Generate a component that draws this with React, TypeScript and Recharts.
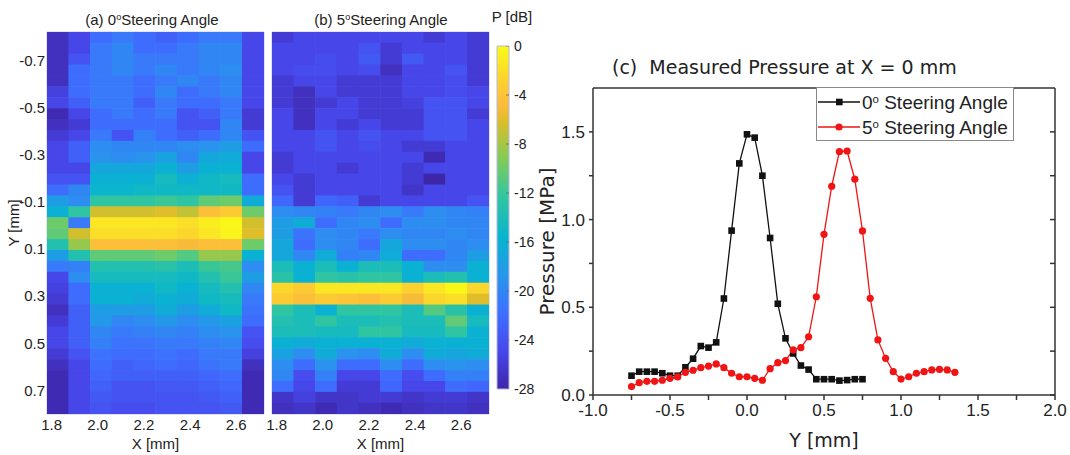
import React from 'react';
import {
  ScatterChart,
  Scatter,
  LineChart,
  Line,
  XAxis,
  YAxis,
  ReferenceArea,
} from 'recharts';

// heat map grid (panels a and b)
const heatXStart = 1.78;
const heatXStep = 0.094;
const heatYStart = -0.82;
const heatYStep = 0.04629;
const heatXTicks = [1.8, 2.0, 2.2, 2.4, 2.6];
const heatYTicks = [-0.7, -0.5, -0.3, -0.1, 0.1, 0.3, 0.5, 0.7];
const colorbarTicks = [0, -4, -8, -12, -16, -20, -24, -28];

// P [dB], one row per Y step (top to bottom), 10 X columns
const steer0Map = [
  [-27, -25, -22, -21, -22, -23, -22, -21, -21, -25],
  [-27, -25, -21, -20, -22, -22, -21, -20, -20, -25],
  [-27, -24, -21, -20, -21, -21, -21, -20, -20, -25],
  [-27, -22, -21, -20, -21, -20, -21, -20, -19.5, -25],
  [-27, -22, -21, -21, -22, -21, -20, -21, -20, -25],
  [-25.5, -22, -21, -21, -22, -20, -22, -21, -20, -25],
  [-25, -23, -21, -21, -23, -21, -22, -22, -21, -25],
  [-27.5, -25, -22, -21, -22, -21, -24, -23, -21, -26],
  [-27, -26, -22, -22, -22, -22, -24, -24, -20, -26],
  [-26, -25, -21, -24, -20.5, -22, -23, -22, -20, -24],
  [-25, -23, -19.5, -20, -20, -20, -19.5, -19, -18, -22],
  [-25, -23, -19, -19.5, -19, -17.5, -20, -17, -16.5, -25],
  [-25, -25, -17, -17, -17, -16, -18, -16, -16, -25],
  [-24, -24, -16, -16, -16, -14.5, -16, -15, -14.5, -22],
  [-22, -20, -15.5, -15.5, -15, -15, -15, -15, -15, -22],
  [-18, -19.5, -12.5, -12.5, -12.5, -12, -12.5, -10.5, -10, -16.5],
  [-16, -12.5, -6.5, -6.5, -6.5, -6, -7, -4.5, -3.5, -10],
  [-10, -21, -1.5, -1.5, -1.5, -1.5, -2, -1, -0.3, -6.5],
  [-10.5, -6.5, -2, -2, -2, -2, -2.5, -1.5, -0.5, -6],
  [-13.5, -8.5, -4.5, -4.5, -4.5, -4.5, -5, -4.5, -4.5, -10],
  [-18, -13.5, -10.5, -10.5, -10.5, -10, -11, -8.5, -8.5, -16],
  [-21, -20.5, -13.5, -13.5, -13.5, -13, -14, -12, -11.5, -19.5],
  [-25, -19.5, -14.5, -14.5, -14.5, -14.5, -15, -13.5, -12, -18],
  [-25.5, -22, -16, -16, -16, -15, -16, -14.5, -13.5, -20],
  [-26, -22, -16, -16, -16.5, -16, -16.5, -15, -14.5, -21],
  [-27, -23, -18, -18, -18, -16.5, -18, -16.5, -15, -21.5],
  [-26, -23, -18.5, -20, -19.5, -18.5, -19.5, -18.5, -17.5, -22],
  [-25, -23, -20, -21, -20.5, -20, -20.5, -19.5, -19, -24],
  [-25, -23, -20.5, -21.5, -21.5, -21, -21, -20.5, -20, -24.5],
  [-26, -24, -21.5, -22, -22, -21.5, -22, -21, -21, -25.5],
  [-27, -25, -22, -23, -22.5, -22, -22.5, -21.5, -21, -27],
  [-27.5, -25, -22.5, -23, -23, -23, -23, -22.5, -22, -27.5],
  [-27.5, -25, -23, -24, -24, -23.5, -23.5, -23, -22.5, -27.5],
  [-27.5, -25, -23.5, -24, -24, -24, -24, -23.5, -23, -27.5],
  [-27.5, -25, -24, -24.5, -24.5, -24, -24, -24, -23.5, -27.5],
];

const steer5Map = [
  [-26, -25, -25, -25, -25, -25, -25, -26, -25, -26],
  [-25, -25, -25, -25, -24, -26, -25, -25, -25, -26],
  [-25, -25, -24.5, -25, -23.5, -26, -23.5, -25, -25, -26],
  [-25, -24.5, -24.5, -25, -24.5, -27, -25, -25, -24, -26],
  [-26, -25, -25, -26, -26, -26, -25, -25, -24.5, -26],
  [-26, -27, -25, -26, -26, -26, -25, -25, -24.5, -25],
  [-26, -27, -26, -25, -26, -26, -25.5, -24, -24, -25],
  [-25, -27, -25, -25, -26, -26, -26, -24, -24, -26],
  [-25, -27, -25, -26, -25, -26, -26, -24, -24, -25],
  [-25, -25, -24, -25, -24, -25, -25, -24, -24, -25],
  [-25, -25, -24, -25, -24.5, -25, -26, -26, -25, -25],
  [-26, -25, -25, -25, -25, -25, -25, -27.5, -25, -25],
  [-26, -25, -25, -26, -25, -25, -26, -25, -25, -25],
  [-25, -26, -25, -25, -25, -25, -26, -28, -25, -25],
  [-24, -26, -25, -25, -25, -25, -26.5, -25, -25, -25],
  [-22.5, -26, -22.5, -23, -26, -25, -25, -25, -25, -24],
  [-19.5, -20, -20.5, -21, -20, -19.5, -21, -19.5, -20, -20.5],
  [-18, -16.5, -22, -20, -19.5, -22, -19.5, -19.5, -20, -20],
  [-18, -21.5, -19.5, -20, -21, -19.5, -20, -20, -19.5, -20],
  [-17, -22, -19.5, -20, -22, -17, -19.5, -19.5, -20, -19.5],
  [-17, -20, -16.5, -20.5, -20, -16.5, -22, -22, -20, -18],
  [-14, -16, -14, -16, -14, -14, -16, -19.5, -19.5, -16],
  [-13, -16, -12.5, -13, -12.5, -12.5, -16, -14, -13.5, -16],
  [-2.5, -3.5, -1.5, -1.5, -1.5, -1.5, -3, -1.5, -0.3, -2.5],
  [-3.5, -4.5, -3.5, -4, -4.5, -3.5, -5, -2.5, -2, -6],
  [-12.5, -14, -16, -12.5, -12.5, -12.5, -14, -11, -13, -16],
  [-13.5, -14, -12.5, -14, -14, -13.5, -14, -14, -10.5, -14.5],
  [-14, -14, -14.5, -14.5, -12.5, -12.5, -14.5, -14.5, -12.5, -16],
  [-16, -16.5, -16, -16, -16, -16, -16.5, -16, -16, -16],
  [-17.5, -19.5, -16.5, -19, -19.5, -16.5, -19.5, -16.5, -17, -16.5],
  [-19.5, -22, -19, -22, -22, -19.5, -22, -19.5, -19, -19.5],
  [-20, -24.5, -20.5, -25, -25, -22, -24.5, -22, -20.5, -20.5],
  [-22, -25, -22, -26, -26, -22.5, -25, -25, -22, -22.5],
  [-26.5, -25.5, -26.5, -26.5, -26, -26, -26.5, -26, -26, -26.5],
  [-27, -26.5, -27.5, -26.5, -27, -27.5, -27, -26.5, -26.5, -27],
];

// line plot (c): Y position [mm] and pressure [MPa]
const steer0Y = [
  -0.75, -0.7, -0.65, -0.6, -0.55, -0.5, -0.45, -0.4, -0.35, -0.3, -0.25, -0.2, -0.15, -0.1, -0.05,
  0, 0.05, 0.1, 0.15, 0.2, 0.25, 0.3, 0.35, 0.4, 0.45, 0.5, 0.55, 0.6, 0.65, 0.7, 0.75,
];
const steer0P = [
  0.11, 0.133, 0.133, 0.133, 0.124, 0.11, 0.11, 0.158, 0.207, 0.279, 0.27, 0.3, 0.55, 0.937, 1.32,
  1.486, 1.467, 1.25, 0.895, 0.52, 0.323, 0.237, 0.168, 0.145, 0.09, 0.09, 0.09, 0.082, 0.085, 0.09, 0.09,
];
const steer5Y = [
  -0.75, -0.7, -0.65, -0.6, -0.55, -0.5, -0.45, -0.4, -0.35, -0.3, -0.25, -0.2, -0.15, -0.1, -0.05,
  0, 0.05, 0.1, 0.15, 0.2, 0.25, 0.3, 0.35, 0.4, 0.45, 0.5, 0.55, 0.6, 0.65, 0.7, 0.75,
  0.8, 0.85, 0.9, 0.95, 1.0, 1.05, 1.1, 1.15, 1.2, 1.25, 1.3, 1.35,
];
const steer5P = [
  0.048, 0.07, 0.078, 0.078, 0.084, 0.095, 0.103, 0.129, 0.141, 0.156, 0.165, 0.177, 0.156, 0.124, 0.104,
  0.104, 0.095, 0.084, 0.15, 0.184, 0.196, 0.257, 0.27, 0.332, 0.56, 0.916, 1.19, 1.387, 1.391, 1.23, 0.935,
  0.551, 0.314, 0.209, 0.133, 0.091, 0.104, 0.124, 0.133, 0.143, 0.146, 0.143, 0.129,
];
const lineXTicks = [-1, -0.75, -0.5, -0.25, 0, 0.25, 0.5, 0.75, 1, 1.25, 1.5, 1.75, 2];
const lineYTicks = [0, 0.25, 0.5, 0.75, 1, 1.25, 1.5];

const series = [
  { name: '0', color: '#111111', marker: 'square' },
  { name: '5', color: '#f01414', marker: 'circle' },
];

// approximate MATLAB parula
const parulaStops: [number, string][] = [
  [0, '#3e26a8'],
  [0.11, '#4747eb'],
  [0.22, '#3e6fff'],
  [0.33, '#2796eb'],
  [0.44, '#08b4d0'],
  [0.56, '#31c69f'],
  [0.67, '#81cc59'],
  [0.78, '#dcbd29'],
  [0.83, '#fbbc3c'],
  [0.89, '#fccf30'],
  [1, '#f9fb15'],
];

const hexRgb = (h: string) => [1, 3, 5].map((i) => parseInt(h.slice(i, i + 2), 16));

function parula(t: number): string {
  const v = Math.max(0, Math.min(1, t));
  for (let i = 1; i < parulaStops.length; i++) {
    const [t1, c1] = parulaStops[i];
    if (v <= t1) {
      const [t0, c0] = parulaStops[i - 1];
      const f = (v - t0) / (t1 - t0);
      const a = hexRgb(c0);
      const b = hexRgb(c1);
      return `rgb(${a.map((x, k) => Math.round(x + (b[k] - x) * f)).join(',')})`;
    }
  }
  return parulaStops[parulaStops.length - 1][1];
}

const dbColor = (db: number) => parula((db + 28) / 28);

const SANS = "'Liberation Sans', Arial, sans-serif";
const WIDE = "'DejaVu Sans', Verdana, sans-serif";
const TEXT = '#222';

const Deg = () => <sup style={{ fontSize: '0.6em', verticalAlign: '0.55em' }}>o</sup>;

interface HeatProps {
  values: number[][];
  left: number;
  width: number;
  margin: { top: number; right: number; bottom: number; left: number };
  showY: boolean;
}

const HEAT_H = 455;
const HEAT_XAXIS_H = 41;
const HEAT_YAXIS_W = 47;

const HeatPanel: React.FC<HeatProps> = ({ values, left, width, margin, showY }) => {
  const nRows = values.length;
  const nCols = values[0].length;
  const xEnd = heatXStart + heatXStep * nCols;
  const yEnd = heatYStart + heatYStep * nRows;
  const cells = values.flatMap((row, r) =>
    row.map((db, c) => ({
      x: heatXStart + heatXStep * (c + 0.5),
      y: heatYStart + heatYStep * (r + 0.5),
      db,
    }))
  );
  const plotW = width - margin.left - margin.right - (showY ? HEAT_YAXIS_W : 0);
  const plotH = HEAT_H - margin.top - margin.bottom - HEAT_XAXIS_H;
  const cw = plotW / nCols;
  const ch = plotH / nRows;

  return (
    <div style={{ position: 'absolute', left, top: 0 }}>
      <ScatterChart width={width} height={HEAT_H} margin={margin}>
        <XAxis
          type="number"
          dataKey="x"
          domain={[heatXStart, xEnd]}
          ticks={heatXTicks}
          allowDataOverflow
          height={HEAT_XAXIS_H}
          axisLine={false}
          tickLine={false}
          tickSize={0}
          tickMargin={5}
          tickFormatter={(v: number) => v.toFixed(1)}
          tick={{ fontFamily: SANS, fontSize: 15, fill: TEXT }}
          label={{ value: 'X [mm]', position: 'insideBottom', offset: 6, style: { fontFamily: SANS, fontSize: 15, fill: TEXT } }}
        />
        <YAxis
          type="number"
          dataKey="y"
          domain={[heatYStart, yEnd]}
          ticks={heatYTicks}
          reversed
          allowDataOverflow
          hide={!showY}
          width={HEAT_YAXIS_W}
          axisLine={false}
          tickLine={false}
          tickSize={0}
          tickMargin={2}
          tickFormatter={(v: number) => v.toFixed(1)}
          tick={{ fontFamily: SANS, fontSize: 15, fill: TEXT }}
          label={{
            value: 'Y [mm]',
            angle: -90,
            position: 'insideLeft',
            offset: 14,
            style: { textAnchor: 'middle', fontFamily: SANS, fontSize: 15, fill: TEXT },
          }}
        />
        <Scatter
          data={cells}
          isAnimationActive={false}
          shape={(p: any) => (
            <rect
              x={p.cx - cw / 2 - 0.3}
              y={p.cy - ch / 2 - 0.3}
              width={cw + 0.6}
              height={ch + 0.6}
              fill={dbColor(p.payload.db)}
            />
          )}
        />
        <ReferenceArea
          x1={heatXStart}
          x2={xEnd}
          y1={heatYStart}
          y2={yEnd}
          fill="none"
          stroke="#c6c6ee"
          strokeWidth={1}
          ifOverflow="visible"
        />
      </ScatterChart>
    </div>
  );
};

const ColorBar: React.FC = () => {
  const anchors = colorbarTicks.map((v) => ({ x: 0.5, v }));
  return (
    <div style={{ position: 'absolute', left: 490, top: 0 }}>
      <ScatterChart width={60} height={455} margin={{ top: 46, right: 0, bottom: 66, left: 7 }}>
        <defs>
          <linearGradient id="parulaBar" x1="0" y1="1" x2="0" y2="0">
            {parulaStops.map(([t, c]) => (
              <stop key={t} offset={t} stopColor={c} />
            ))}
          </linearGradient>
        </defs>
        <XAxis type="number" dataKey="x" domain={[0, 1]} allowDataOverflow hide />
        <YAxis
          orientation="right"
          type="number"
          dataKey="v"
          domain={[-28, 0]}
          ticks={colorbarTicks}
          allowDataOverflow
          width={41}
          axisLine={false}
          tickLine={false}
          tickSize={0}
          tickMargin={5}
          tick={{ fontFamily: SANS, fontSize: 14, fill: TEXT }}
        />
        <ReferenceArea
          x1={0}
          x2={1}
          y1={-28}
          y2={0}
          fill="url(#parulaBar)"
          fillOpacity={1}
          stroke="#b8b8e0"
          ifOverflow="visible"
        />
        <Scatter
          data={anchors}
          isAnimationActive={false}
          shape={(p: any) => (
            <line x1={p.cx + 3} x2={p.cx + 6} y1={p.cy} y2={p.cy} stroke="#666" strokeWidth={0.8} />
          )}
        />
      </ScatterChart>
    </div>
  );
};

const majorFmt = (v: number) => (Math.abs(v * 2 - Math.round(v * 2)) < 1e-6 ? v.toFixed(1) : '');

const SquareDot = (p: any) => (
  <rect key={`sq-${p.index}`} x={p.cx - 3.3} y={p.cy - 3.3} width={6.6} height={6.6} fill={series[0].color} />
);

const PressurePlot: React.FC = () => {
  const d0 = steer0Y.map((y, i) => ({ y, p: steer0P[i] }));
  const d5 = steer5Y.map((y, i) => ({ y, p: steer5P[i] }));
  const axisStroke = '#333';
  return (
    <div style={{ position: 'absolute', left: 530, top: 40 }}>
      <LineChart width={540} height={415} margin={{ top: 48, right: 15, bottom: 0, left: 0 }}>
        <XAxis
          xAxisId="b"
          type="number"
          dataKey="y"
          domain={[-1, 2]}
          ticks={lineXTicks}
          allowDataOverflow
          height={60}
          stroke={axisStroke}
          strokeWidth={1.5}
          tickSize={5}
          tickMargin={4}
          tickFormatter={majorFmt}
          tick={{ fontFamily: SANS, fontSize: 17, fill: TEXT }}
          label={{ value: 'Y [mm]', position: 'insideBottom', offset: 8, style: { fontFamily: WIDE, fontSize: 19, fill: TEXT } }}
        />
        <XAxis
          xAxisId="t"
          orientation="top"
          type="number"
          domain={[-1, 2]}
          ticks={lineXTicks}
          allowDataOverflow
          mirror
          stroke={axisStroke}
          strokeWidth={1.5}
          tickSize={5}
          tickFormatter={() => ''}
        />
        <YAxis
          yAxisId="l"
          type="number"
          domain={[0, 1.75]}
          ticks={lineYTicks}
          allowDataOverflow
          width={63}
          stroke={axisStroke}
          strokeWidth={1.5}
          tickSize={4}
          tickMargin={4}
          tickFormatter={majorFmt}
          tick={{ fontFamily: SANS, fontSize: 17, fill: TEXT }}
          label={{
            value: 'Pressure [MPa]',
            angle: -90,
            position: 'insideLeft',
            offset: 17,
            style: { textAnchor: 'middle', fontFamily: WIDE, fontSize: 20, fill: TEXT },
          }}
        />
        <YAxis
          yAxisId="r"
          orientation="right"
          type="number"
          domain={[0, 1.75]}
          ticks={lineYTicks}
          allowDataOverflow
          mirror
          stroke={axisStroke}
          strokeWidth={1.5}
          tickSize={5}
          tickFormatter={() => ''}
        />
        <Line
          xAxisId="b"
          yAxisId="l"
          data={d0}
          dataKey="p"
          stroke={series[0].color}
          strokeWidth={1.3}
          dot={SquareDot}
          activeDot={false}
          isAnimationActive={false}
        />
        <Line
          xAxisId="b"
          yAxisId="l"
          data={d5}
          dataKey="p"
          stroke={series[1].color}
          strokeWidth={1.3}
          dot={{ r: 3.6, fill: series[1].color, stroke: series[1].color, strokeWidth: 0 }}
          activeDot={false}
          isAnimationActive={false}
        />
      </LineChart>
    </div>
  );
};

const LegendBox: React.FC = () => (
  <div
    style={{
      position: 'absolute',
      left: 816,
      top: 87,
      width: 196,
      height: 52,
      border: '1px solid #8a8a8a',
      background: '#fff',
      fontFamily: SANS,
      fontSize: 19,
      color: TEXT,
    }}
  >
    {series.map((s, i) => (
      <div key={s.name} style={{ position: 'absolute', left: 1, top: 3 + i * 25, height: 22, display: 'flex', alignItems: 'center', lineHeight: 1 }}>
        <svg width={42} height={12}>
          <line x1={0} y1={6} x2={42} y2={6} stroke={s.color} strokeWidth={1.3} />
          {s.marker === 'square' ? (
            <rect x={18} y={2.7} width={6.6} height={6.6} fill={s.color} />
          ) : (
            <circle cx={21} cy={6} r={3.6} fill={s.color} />
          )}
        </svg>
        <span style={{ marginLeft: 2 }}>
          {s.name}
          <Deg /> Steering Angle
        </span>
      </div>
    ))}
  </div>
);

const titleStyle: React.CSSProperties = {
  position: 'absolute',
  fontFamily: SANS,
  fontSize: 15,
  color: TEXT,
  textAlign: 'center',
  lineHeight: 1,
  whiteSpace: 'pre',
};

export default function App() {
  return (
    <div style={{ position: 'absolute', left: 0, top: 0, width: 1070, height: 455, background: '#fff', overflow: 'hidden' }}>
      <HeatPanel values={steer0Map} left={0} width={270} margin={{ top: 32, right: 6, bottom: 0, left: 0 }} showY />
      <HeatPanel values={steer5Map} left={265} width={230} margin={{ top: 32, right: 6, bottom: 0, left: 7 }} showY={false} />
      <ColorBar />
      <PressurePlot />
      <LegendBox />
      <div style={{ ...titleStyle, left: 52, top: 12, width: 200 }}>
        (a) 0<Deg />Steering Angle
      </div>
      <div style={{ ...titleStyle, left: 281, top: 12, width: 200 }}>
        (b) 5<Deg />Steering Angle
      </div>
      <div style={{ ...titleStyle, left: 472, top: 9, width: 80 }}>P [dB]</div>
      <div style={{ ...titleStyle, left: 612, top: 58, fontFamily: WIDE, fontSize: 19, textAlign: 'left' }}>
        {'(c)  Measured Pressure at X = 0 mm'}
      </div>
    </div>
  );
}
